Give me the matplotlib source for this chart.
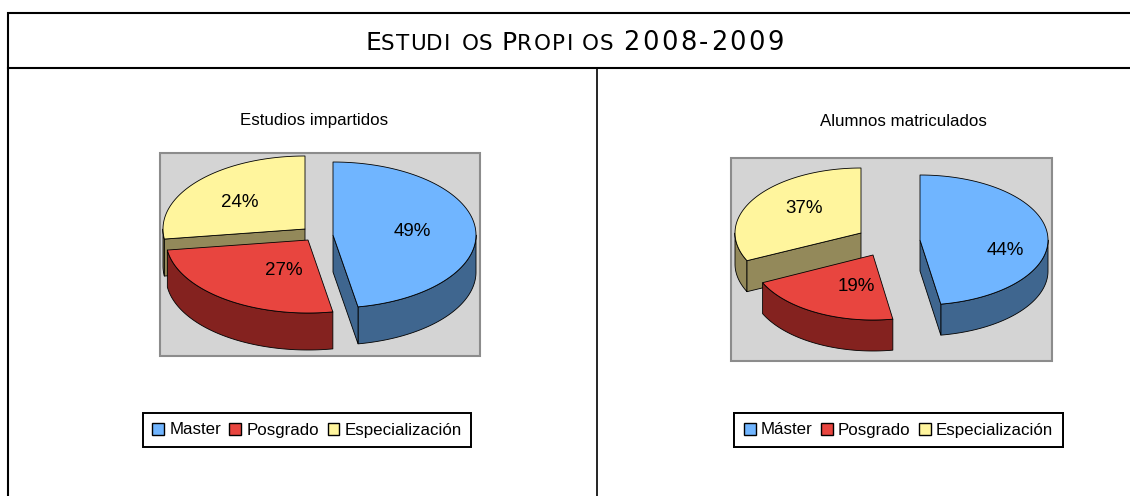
import numpy as np
import matplotlib
matplotlib.use("Agg")
import matplotlib.pyplot as plt
from matplotlib.patches import Polygon, Rectangle, Patch

# printed percentages
labels_left = ["Master", "Posgrado", "Especialización"]
labels_right = ["Máster", "Posgrado", "Especialización"]
pct_left = [49, 27, 24]
pct_right = [44, 19, 37]

# shares as they look on the tilted pie (perspective skews them)
shown_left = [47.2, 25.6, 27.2]
shown_right = [47.4, 20.6, 32.0]

colors = ["#70B5FF", "#E8453F", "#FFF59D"]
dark = ["#3F668F", "#84221F", "#93895A"]

plt.rcParams["font.family"] = ["Liberation Sans", "DejaVu Sans"]

fig = plt.figure(figsize=(11.3, 4.96), dpi=100)
ax = fig.add_axes([0, 0, 1, 1])
ax.set_xlim(0, 1130)
ax.set_ylim(496, 0)
ax.axis("off")
renderer = fig.canvas.get_renderer()


def rim(cx, cy, rx, ry, a0, a1):
    t = np.radians(np.linspace(a0, a1, 80))
    return np.column_stack([cx + rx * np.sin(t), cy - ry * np.cos(t)])


def pie3d(shown, apexes, rxs, ry, depth):
    ends = np.cumsum([0] + shown) * 3.6
    # back slices first so the front ones cover them
    for i in [2, 1, 0]:
        a0, a1 = ends[i], ends[i + 1]
        cx, cy = apexes[i]
        rx = rxs[i]
        # outer wall, only the part facing the viewer
        w0, w1 = max(a0, 90), min(a1, 270)
        if w1 > w0:
            top = rim(cx, cy, rx, ry, w0, w1)
            low = top[::-1] + [0, depth]
            ax.add_patch(Polygon(np.vstack([top, low]), fc=dark[i], ec="black", lw=0.6, joinstyle="round"))
        # cut faces, visible on the yellow and the blue slice
        if i == 2:
            p = rim(cx, cy, rx, ry, a0, a0)[0]
            ax.add_patch(Polygon([(cx, cy), p, p + [0, depth], (cx, cy + depth)], fc=dark[i], ec="black", lw=0.6))
        if i == 0:
            p = rim(cx, cy, rx, ry, a1, a1)[0]
            ax.add_patch(Polygon([(cx, cy), p, p + [0, depth], (cx, cy + depth)], fc=dark[i], ec="black", lw=0.6))
        top = np.vstack([[(cx, cy)], rim(cx, cy, rx, ry, a0, a1)])
        ax.add_patch(Polygon(top, fc=colors[i], ec="black", lw=0.6, joinstyle="round"))


def legend_at(labels, x, y):
    handles = [Patch(fc=c, ec="black", lw=1.0) for c in colors]
    leg = ax.legend(handles, labels, loc="center", bbox_to_anchor=(x, y), bbox_transform=ax.transData,
                    ncol=3, fontsize=12.2, frameon=True, fancybox=False, edgecolor="black", framealpha=1,
                    handlelength=0.7, handleheight=0.7, handletextpad=0.3, columnspacing=0.5,
                    borderpad=0.55, borderaxespad=0)
    leg.get_frame().set_linewidth(1.4)
    ax.add_artist(leg)


def spaced(text, x0, x1, size):
    # wide lettering: spread the letters over the width they take in the picture
    glyphs = [ax.text(0, 49.5, c, fontsize=size, family="DejaVu Sans", ha="left", va="baseline") for c in text]
    widths = [g.get_window_extent(renderer).width for g in glyphs]
    gap = (x1 - x0 - sum(widths)) / max(len(text) - 1, 1)
    x = x0
    for g, w in zip(glyphs, widths):
        g.set_x(x)
        x += w + gap


# frame, open on the right
ax.plot([8, 8, 1130], [496, 13, 13], color="black", lw=1.5, solid_joinstyle="miter")
ax.plot([8, 1130], [68, 68], color="black", lw=1.5)
ax.plot([597, 597], [68, 496], color="black", lw=1.2)

# small caps title
spaced("E", 366, 380, 18)
spaced("STUDI", 381, 450, 15.5)
spaced("OS", 462, 492, 15.5)
spaced("P", 502, 516, 18)
spaced("ROPI", 517, 573, 15.5)
spaced("OS", 582, 613, 15.5)
spaced("2008-2009", 623, 784, 18.5)

ax.text(314, 125.5, "Estudios impartidos", fontsize=12.2, ha="center", va="baseline")
ax.text(903, 125.5, "Alumnos matriculados", fontsize=12.2, ha="center", va="baseline")

ax.add_patch(Rectangle((160, 153), 320, 203, fc="#D4D4D4", ec="#8C8C8C", lw=1.5))
ax.add_patch(Rectangle((731, 158), 321, 203, fc="#D4D4D4", ec="#8C8C8C", lw=1.5))

pie3d(shown_left, [(333, 235), (308, 240), (305, 229)], [143, 142, 142], 73, 37)
pie3d(shown_right, [(920, 240), (873, 255), (861, 233)], [128, 122, 126], 65, 31)

for v, (x, y) in zip(pct_left, [(412, 236), (284, 275), (240, 207)]):
    ax.text(x, y, f"{v}%", fontsize=13.5, ha="center", va="baseline")
for v, (x, y) in zip(pct_right, [(1005, 255), (856, 291), (804, 213)]):
    ax.text(x, y, f"{v}%", fontsize=13.5, ha="center", va="baseline")

legend_at(labels_left, 307, 430)
legend_at(labels_right, 898.5, 430)

fig.savefig("out.png", dpi=100)
